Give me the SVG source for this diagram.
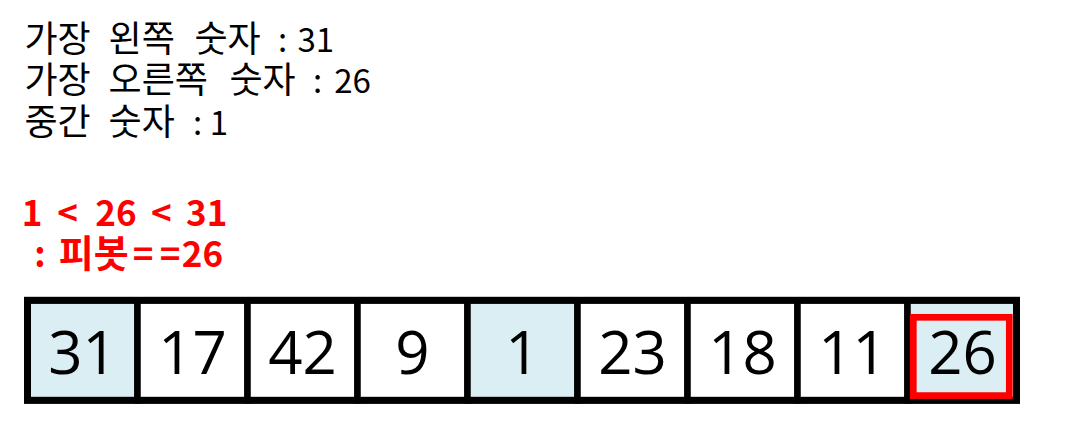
<svg xmlns="http://www.w3.org/2000/svg" width="1087" height="441" viewBox="0 0 1087 441">
<style>
.info{font-family:"Noto Sans CJK KR","Noto Sans",sans-serif;font-size:33px;fill:#000;text-anchor:middle}
.info .h{font-size:36px}
.red{font-family:"Noto Sans CJK KR","Noto Sans",sans-serif;font-size:35px;font-weight:bold;fill:#ff0000;text-anchor:middle}
.red .h{font-size:38px}
.cell rect{stroke:#000;stroke-width:6.5}
.cell text{font-family:"Open Sans","Liberation Sans",sans-serif;font-size:60px;fill:#000;text-anchor:middle}
.w{fill:#ffffff}
.b{fill:#daeef3}
</style>
<rect width="1087" height="441" fill="#ffffff"/>
<g id="info-text">
<text class="info" y="52"><tspan class="h" x="57.5">가장</tspan><tspan class="h" x="141.7">왼쪽</tspan><tspan class="h" x="227.5">숫자</tspan><tspan x="282.5">:</tspan><tspan x="315.8">31</tspan></text>
<text class="info" y="93"><tspan class="h" x="57.5">가장</tspan><tspan class="h" x="158.3">오른쪽</tspan><tspan class="h" x="262.5">숫자</tspan><tspan x="317.5">:</tspan><tspan x="352.5">26</tspan></text>
<text class="info" y="135"><tspan class="h" x="57.5">중간</tspan><tspan class="h" x="141.7">숫자</tspan><tspan x="197.5">:</tspan><tspan x="219">1</tspan></text>
</g>
<g id="pivot-text">
<text class="red" y="225.5"><tspan x="32">1</tspan><tspan x="67.5">&lt;</tspan><tspan x="116">26</tspan><tspan x="161.3">&lt;</tspan><tspan x="206.7">31</tspan></text>
<text class="red" y="266.5"><tspan x="40">:</tspan><tspan class="h" x="93.8">피봇</tspan><tspan x="143">=</tspan><tspan x="170">=</tspan><tspan x="202.5">26</tspan></text>
</g>
<g id="array">
<g id="cell-0" class="cell"><rect class="b" x="27.5" y="300.3" width="110" height="100"/><text x="82.5" y="373.5">31</text></g>
<g id="cell-1" class="cell"><rect class="w" x="137.5" y="300.3" width="110" height="100"/><text x="192.5" y="373.5">17</text></g>
<g id="cell-2" class="cell"><rect class="w" x="247.5" y="300.3" width="110" height="100"/><text x="302.5" y="373.5">42</text></g>
<g id="cell-3" class="cell"><rect class="w" x="357.5" y="300.3" width="110" height="100"/><text x="412.5" y="373.5">9</text></g>
<g id="cell-4" class="cell"><rect class="b" x="467.5" y="300.3" width="110" height="100"/><text x="522.5" y="373.5">1</text></g>
<g id="cell-5" class="cell"><rect class="w" x="577.5" y="300.3" width="110" height="100"/><text x="632.5" y="373.5">23</text></g>
<g id="cell-6" class="cell"><rect class="w" x="687.5" y="300.3" width="110" height="100"/><text x="742.5" y="373.5">18</text></g>
<g id="cell-7" class="cell"><rect class="w" x="797.5" y="300.3" width="110" height="100"/><text x="852.5" y="373.5">11</text></g>
<g id="cell-8" class="cell"><rect class="b" x="907.5" y="300.3" width="109" height="100"/><text x="962.5" y="373.5">26</text></g>
<rect x="27.5" y="300.3" width="989" height="100" fill="none" stroke="#000" stroke-width="7"/>
</g>
<g id="pivot-highlight">
<rect x="913.3" y="317.3" width="96" height="78.3" fill="none" stroke="#ff0000" stroke-width="6.7"/>
</g>
</svg>
